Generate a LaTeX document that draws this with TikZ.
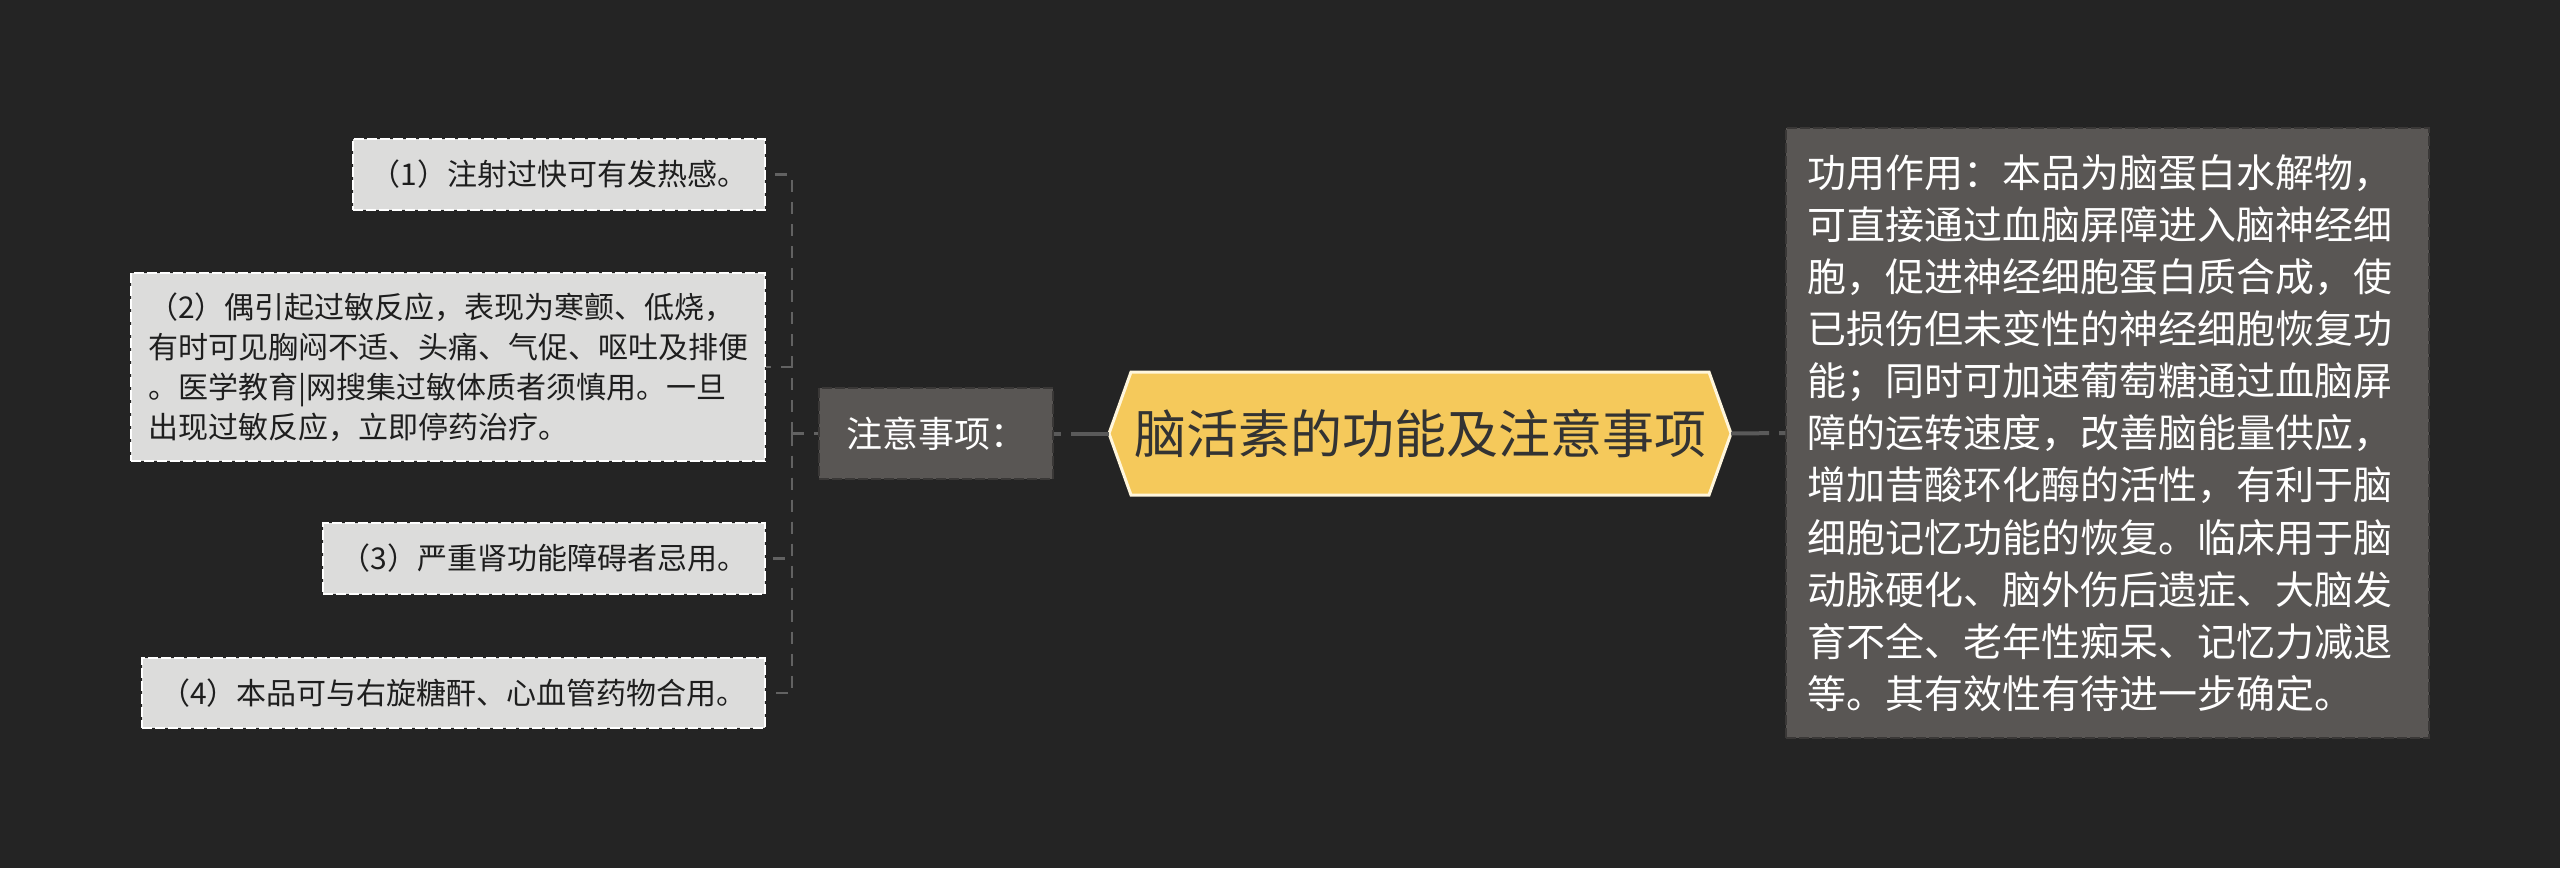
\documentclass[tikz,border=0pt]{standalone}
\usepackage{fontspec}
\setmainfont{Noto Sans CJK SC}
\usetikzlibrary{backgrounds}
\definecolor{bgc}{HTML}{242424}
\definecolor{leftfill}{HTML}{DCDCDB}
\definecolor{darkfill}{HTML}{595654}
\definecolor{darkedge}{HTML}{3A3837}
\definecolor{hexfill}{HTML}{F5C95B}
\definecolor{hexedge}{HTML}{FFF6DC}
\definecolor{thinline}{HTML}{626262}
\definecolor{thickline}{HTML}{5A5A5A}
\definecolor{darktext}{HTML}{1E1E1E}
\definecolor{hextext}{HTML}{333333}
\tikzset{
  leafbox/.style={draw=white, line width=1.5pt, dash pattern=on 10pt off 3pt, fill=leftfill,
    text=darktext, inner sep=0pt, font=\fontsize{30}{40}\selectfont},
  greybox/.style={draw=darkedge, line width=1.5pt, dash pattern=on 10pt off 3pt, fill=darkfill,
    text=white, inner sep=0pt},
  thinlink/.style={draw=thinline, line width=2.5pt, dash pattern=on 12pt off 10pt},
  thicklink/.style={draw=thickline, line width=4pt, dash pattern=on 38pt off 10pt}
}
\begin{document}
\begin{tikzpicture}[x=1pt,y=-1pt]
\useasboundingbox (0,0) rectangle (2560,868);
\begin{pgfonlayer}{background}
\fill[bgc] (0,0) rectangle (2560,868);
\filldraw[fill=hexfill, draw=hexedge, line width=3pt, line join=miter]
  (1109,433.5) -- (1131,372) -- (1709,372) -- (1731,433.5) -- (1709,495) -- (1131,495) -- cycle;
\end{pgfonlayer}

% centre
\node[inner sep=0pt, minimum width=622pt, minimum height=123pt, text=hextext,
  font=\fontsize{52}{60}\selectfont] (hex) at (1420,433.5) {脑活素的功能及注意事项};

% left branch
\node[greybox, minimum width=234pt, minimum height=91pt, font=\fontsize{36}{44}\selectfont]
  (zy) at (936,433.5) {注意事项：};

\node[leafbox, minimum width=412pt, minimum height=71pt] (b1) at (559,174.5) {（1）注射过快可有发热感。};
\node[leafbox, minimum width=634pt, minimum height=188pt, align=left] (b2) at (448,367)
  {（2）偶引起过敏反应，表现为寒颤、低烧，\\有时可见胸闷不适、头痛、气促、呕吐及排便\\。医学教育|网搜集过敏体质者须慎用。一旦\\出现过敏反应，立即停药治疗。};
\node[leafbox, minimum width=442pt, minimum height=71pt] (b3) at (544,558.5) {（3）严重肾功能障碍者忌用。};
\node[leafbox, minimum width=623pt, minimum height=70pt] (b4) at (453.5,693) {（4）本品可与右旋糖酐、心血管药物合用。};

% right branch
\node[greybox, minimum width=643pt, minimum height=610pt, text width=601pt, align=left,
  font=\fontsize{39}{52.1}\selectfont] (rb) at (2107.5,433)
  {功用作用：本品为脑蛋白水解物，\\可直接通过血脑屏障进入脑神经细\\胞，促进神经细胞蛋白质合成，使\\已损伤但未变性的神经细胞恢复功\\能；同时可加速葡萄糖通过血脑屏\\障的运转速度，改善脑能量供应，\\增加昔酸环化酶的活性，有利于脑\\细胞记忆功能的恢复。临床用于脑\\动脉硬化、脑外伤后遗症、大脑发\\育不全、老年性痴呆、记忆力减退\\等。其有效性有待进一步确定。};

% connectors
\coordinate (j) at (792,433.5);
\draw[thicklink] (hex.west) -- (zy.east);
\draw[thicklink] (hex.east) -- (rb.west);
\draw[thinlink] (j) -- (zy.west);
\draw[thinlink] (j) |- (b1.east);
\draw[thinlink] (j) |- (b2.east);
\draw[thinlink] (j) |- (b3.east);
\draw[thinlink] (j) |- (b4.east);
\end{tikzpicture}
\end{document}
